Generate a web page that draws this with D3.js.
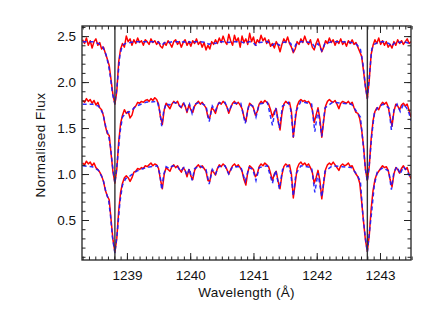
<!DOCTYPE html>
<html><head><meta charset="utf-8">
<script src="https://cdn.jsdelivr.net/npm/d3@7"></script>
<style>html,body{margin:0;padding:0;background:#fff;}svg{display:block;}</style>
</head><body>
<script>
// Observed spectra wavelength grid (Å)
const obsWave = [
1238.30,1238.33,1238.36,1238.39,1238.42,1238.45,1238.48,1238.51,1238.54,1238.57,
1238.60,1238.63,1238.66,1238.69,1238.72,1238.75,1238.78,1238.81,1238.84,1238.87,
1238.90,1238.93,1238.96,1238.99,1239.02,1239.05,1239.08,1239.11,1239.14,1239.17,
1239.20,1239.23,1239.26,1239.29,1239.32,1239.35,1239.38,1239.41,1239.44,1239.47,
1239.50,1239.53,1239.56,1239.59,1239.62,1239.65,1239.68,1239.71,1239.74,1239.77,
1239.80,1239.83,1239.86,1239.89,1239.92,1239.95,1239.98,1240.01,1240.04,1240.07,
1240.10,1240.13,1240.16,1240.19,1240.22,1240.25,1240.28,1240.31,1240.34,1240.37,
1240.40,1240.43,1240.46,1240.49,1240.52,1240.55,1240.58,1240.61,1240.64,1240.67,
1240.70,1240.73,1240.76,1240.79,1240.82,1240.85,1240.88,1240.91,1240.94,1240.97,
1241.00,1241.03,1241.06,1241.09,1241.12,1241.15,1241.18,1241.21,1241.24,1241.27,
1241.30,1241.33,1241.36,1241.39,1241.42,1241.45,1241.48,1241.51,1241.54,1241.57,
1241.60,1241.63,1241.66,1241.69,1241.72,1241.75,1241.78,1241.81,1241.84,1241.87,
1241.90,1241.93,1241.96,1241.99,1242.02,1242.05,1242.08,1242.11,1242.14,1242.17,
1242.20,1242.23,1242.26,1242.29,1242.32,1242.35,1242.38,1242.41,1242.44,1242.47,
1242.50,1242.53,1242.56,1242.59,1242.62,1242.65,1242.68,1242.71,1242.74,1242.77,
1242.80,1242.83,1242.86,1242.89,1242.92,1242.95,1242.98,1243.01,1243.04,1243.07,
1243.10,1243.13,1243.16,1243.19,1243.22,1243.25,1243.28,1243.31,1243.34,1243.37,
1243.40,1243.43,1243.46,1243.49];

const obsTop = [
2.46,2.42,2.48,2.40,2.45,2.37,2.44,2.47,2.40,2.43,
2.36,2.38,2.31,2.25,2.18,2.02,1.86,1.76,1.90,2.22,
2.36,2.42,2.38,2.50,2.44,2.47,2.40,2.46,2.42,2.48,
2.43,2.45,2.40,2.46,2.44,2.41,2.47,2.43,2.45,2.41,
2.44,2.39,2.37,2.43,2.40,2.45,2.42,2.38,2.44,2.46,
2.41,2.44,2.38,2.43,2.46,2.40,2.44,2.39,2.45,2.42,
2.47,2.41,2.44,2.38,2.43,2.35,2.40,2.36,2.44,2.41,
2.46,2.42,2.48,2.43,2.50,2.44,2.41,2.52,2.45,2.40,
2.51,2.44,2.48,2.38,2.50,2.43,2.47,2.41,2.53,2.44,
2.49,2.40,2.46,2.43,2.51,2.45,2.48,2.42,2.46,2.39,
2.42,2.37,2.44,2.40,2.33,2.41,2.47,2.43,2.49,2.42,
2.38,2.32,2.36,2.44,2.41,2.47,2.43,2.50,2.44,2.41,
2.46,2.38,2.35,2.42,2.47,2.40,2.33,2.38,2.45,2.42,
2.48,2.43,2.46,2.40,2.45,2.42,2.47,2.41,2.44,2.39,
2.45,2.42,2.46,2.41,2.43,2.38,2.33,2.28,2.12,1.95,
1.82,2.02,2.30,2.40,2.46,2.42,2.48,2.41,2.45,2.40,
2.44,2.38,2.41,2.37,2.44,2.40,2.46,2.42,2.45,2.41,
2.44,2.47,2.42,2.44];

const obsMid = [
1.80,1.78,1.82,1.79,1.81,1.77,1.80,1.75,1.78,1.72,
1.70,1.63,1.52,1.44,1.42,1.22,1.02,0.90,1.05,1.35,
1.55,1.64,1.70,1.66,1.68,1.61,1.64,1.72,1.74,1.78,
1.77,1.79,1.78,1.80,1.81,1.79,1.82,1.80,1.83,1.81,
1.76,1.62,1.54,1.70,1.77,1.74,1.71,1.76,1.79,1.77,
1.79,1.74,1.72,1.77,1.74,1.67,1.75,1.70,1.67,1.74,
1.77,1.79,1.76,1.78,1.75,1.72,1.62,1.61,1.72,1.70,
1.66,1.74,1.78,1.76,1.79,1.77,1.73,1.66,1.72,1.77,
1.79,1.76,1.78,1.75,1.71,1.62,1.57,1.70,1.77,1.75,
1.72,1.64,1.68,1.76,1.79,1.77,1.80,1.78,1.76,1.70,
1.62,1.68,1.71,1.58,1.48,1.66,1.76,1.79,1.77,1.78,
1.68,1.40,1.58,1.74,1.79,1.81,1.79,1.80,1.78,1.79,
1.76,1.70,1.56,1.64,1.72,1.60,1.40,1.58,1.74,1.79,
1.81,1.79,1.78,1.80,1.76,1.71,1.77,1.79,1.78,1.77,
1.79,1.76,1.78,1.72,1.67,1.66,1.60,1.48,1.30,1.05,
0.93,1.08,1.38,1.58,1.68,1.72,1.70,1.75,1.78,1.76,
1.78,1.73,1.62,1.52,1.68,1.76,1.74,1.70,1.75,1.77,
1.74,1.76,1.69,1.62];

const obsBot = [
1.12,1.10,1.14,1.11,1.13,1.09,1.12,1.07,1.05,1.02,
0.98,0.92,0.82,0.76,0.72,0.50,0.28,0.15,0.30,0.60,
0.80,0.90,0.96,0.98,0.96,0.92,0.96,1.02,1.03,1.06,
1.05,1.07,1.06,1.09,1.08,1.10,1.12,1.09,1.11,1.10,
1.06,0.94,0.84,1.00,1.07,1.05,1.03,1.08,1.10,1.07,
1.09,1.05,1.02,1.07,1.04,0.97,1.05,0.98,0.94,1.04,
1.08,1.10,1.07,1.09,1.06,1.03,0.93,0.92,1.04,1.02,
0.99,1.06,1.10,1.08,1.11,1.09,1.05,1.00,1.05,1.09,
1.11,1.08,1.10,1.07,1.03,0.94,0.88,1.02,1.09,1.07,
1.05,0.97,1.00,1.08,1.11,1.09,1.12,1.10,1.08,1.01,
0.93,1.00,1.03,0.92,0.84,0.99,1.08,1.11,1.09,1.10,
1.00,0.74,0.90,1.06,1.11,1.13,1.10,1.12,1.09,1.11,
1.07,1.02,0.90,0.96,1.04,0.93,0.73,0.90,1.05,1.10,
1.12,1.10,1.13,1.10,1.07,1.04,1.09,1.11,1.09,1.10,
1.12,1.08,1.09,1.04,1.00,0.97,0.90,0.70,0.48,0.28,
0.16,0.33,0.62,0.82,0.94,1.00,1.03,1.06,1.09,1.07,
1.08,1.04,0.94,0.86,1.00,1.07,1.05,1.01,1.06,1.09,
1.05,1.07,1.00,0.95];

// Model spectra (knot wavelengths shared by the three models)
const modelWave = [
1238.30,1238.45,1238.55,1238.62,1238.67,1238.71,1238.74,1238.77,1238.81,1238.85,1238.89,1238.93,1238.98,1239.05,1239.15,1239.30,
1239.48,1239.52,1239.55,1239.58,1239.62,1239.67,1239.72,1239.80,1239.85,1239.90,1239.95,1239.99,1240.03,1240.07,1240.15,
1240.25,1240.30,1240.35,1240.40,1240.45,1240.55,1240.61,1240.67,1240.80,1240.87,1240.93,1240.99,1241.04,1241.09,1241.22,
1241.30,1241.35,1241.41,1241.46,1241.55,1241.59,1241.63,1241.67,1241.75,1241.92,1241.97,1242.02,1242.08,1242.13,1242.25,
1242.40,1242.55,1242.63,1242.69,1242.73,1242.77,1242.80,1242.83,1242.87,1242.91,1242.96,1243.05,1243.14,1243.18,1243.22,
1243.27,1243.32,1243.37,1243.42,1243.46,1243.49];
const modelTop = [
2.44,2.44,2.42,2.38,2.30,2.18,2.05,1.88,1.76,2.00,2.30,2.40,2.42,2.43,2.44,2.44,
2.44,2.42,2.40,2.42,2.44,2.43,2.44,2.44,2.43,2.44,2.42,2.44,2.42,2.44,2.44,
2.43,2.41,2.43,2.42,2.44,2.44,2.43,2.44,2.44,2.42,2.44,2.43,2.40,2.43,2.44,
2.40,2.43,2.40,2.43,2.44,2.42,2.34,2.41,2.44,2.43,2.38,2.42,2.34,2.42,2.44,
2.44,2.43,2.41,2.36,2.20,1.95,1.82,2.05,2.36,2.41,2.43,2.44,2.42,2.39,2.42,
2.44,2.43,2.44,2.43,2.42,2.43];
const modelMid = [
1.76,1.76,1.74,1.66,1.50,1.42,1.30,1.10,0.90,1.15,1.45,1.62,1.66,1.68,1.74,1.78,
1.79,1.68,1.52,1.68,1.77,1.75,1.78,1.77,1.73,1.77,1.69,1.76,1.66,1.76,1.78,
1.74,1.57,1.74,1.69,1.77,1.78,1.68,1.77,1.77,1.55,1.76,1.74,1.62,1.76,1.78,
1.53,1.72,1.50,1.74,1.78,1.70,1.40,1.68,1.79,1.76,1.46,1.70,1.41,1.72,1.78,
1.77,1.76,1.68,1.62,1.35,1.05,0.92,1.10,1.42,1.66,1.72,1.76,1.72,1.48,1.70,
1.76,1.68,1.76,1.72,1.66,1.58];
const modelBot = [
1.09,1.08,1.04,0.95,0.80,0.72,0.55,0.32,0.14,0.38,0.70,0.88,0.95,0.98,1.03,1.07,
1.09,1.00,0.83,0.99,1.08,1.06,1.09,1.08,1.03,1.07,0.99,1.06,0.93,1.06,1.09,
1.05,0.89,1.05,1.00,1.08,1.09,1.00,1.08,1.08,0.92,1.07,1.05,0.93,1.07,1.09,
0.90,1.04,0.84,1.05,1.09,1.01,0.76,1.00,1.09,1.07,0.80,1.01,0.75,1.03,1.09,
1.08,1.07,1.00,0.92,0.55,0.30,0.15,0.35,0.60,0.88,1.03,1.07,1.03,0.83,1.02,
1.08,1.00,1.08,1.04,0.99,0.95];

// N V doublet rest wavelengths
const markerLines = [1238.81, 1242.80];

const xMajor = [1239, 1240, 1241, 1242, 1243];
const yMajor = [0.5, 1.0, 1.5, 2.0, 2.5];
const xLabel = "Wavelength  (Å)";
const yLabel = "Normalised Flux";

const W = 436, H = 312;
const m = {l: 82, r: 411, t: 26, b: 260};
const x = d3.scaleLinear().domain([1238.29, 1243.49]).range([m.l, m.r]);
const y = d3.scaleLinear().domain([0.065, 2.61]).range([m.b, m.t]);

const svg = d3.select("body").append("svg").attr("width", W).attr("height", H);
svg.append("defs").append("clipPath").attr("id", "clip")
  .append("rect").attr("x", m.l).attr("y", m.t).attr("width", m.r - m.l).attr("height", m.b - m.t);

const font = "'Liberation Sans', Arial, sans-serif";
const axisCol = "#222";

const plot = svg.append("g").attr("clip-path", "url(#clip)");
const line = d3.line().x(d => x(d[0])).y(d => y(d[1]));

[obsTop, obsMid, obsBot].forEach(s => {
  plot.append("path").datum(d3.zip(obsWave, s)).attr("d", line)
    .attr("fill", "none").attr("stroke", "#ff0000").attr("stroke-width", 1.5)
    .attr("stroke-linejoin", "round");
});
[modelTop, modelMid, modelBot].forEach(s => {
  plot.append("path").datum(d3.zip(modelWave, s)).attr("d", line)
    .attr("fill", "none").attr("stroke", "#1a1aff").attr("stroke-width", 1.5)
    .attr("stroke-dasharray", "4,3").attr("opacity", 0.9);
});

plot.selectAll("line.nv").data(markerLines).enter().append("line")
  .attr("x1", d => x(d)).attr("x2", d => x(d)).attr("y1", m.t).attr("y2", m.b)
  .attr("stroke", "#333").attr("stroke-width", 1.4);

// Axes (ticks inside, IDL style)
const xMinor = d3.range(1238.3, 1243.5, 0.1);
const yMinor = d3.range(0.1, 2.61, 0.1);
function styleAxis(g) {
  g.select(".domain").remove();
  g.selectAll(".tick line").attr("stroke", axisCol).attr("stroke-width", 1);
  g.selectAll("text").attr("font-family", font).attr("font-size", 13.5).attr("fill", "#111");
}
svg.append("g").attr("transform", `translate(0,${m.b})`)
  .call(d3.axisBottom(x).tickValues(xMajor).tickFormat(d3.format("d")).tickSize(-7).tickSizeOuter(0).tickPadding(10))
  .call(styleAxis);
svg.append("g").attr("transform", `translate(0,${m.b})`)
  .call(d3.axisBottom(x).tickValues(xMinor).tickFormat("").tickSize(-3.5).tickSizeOuter(0))
  .call(styleAxis);
svg.append("g").attr("transform", `translate(0,${m.t})`)
  .call(d3.axisTop(x).tickValues(xMajor).tickFormat("").tickSize(-7).tickSizeOuter(0))
  .call(styleAxis);
svg.append("g").attr("transform", `translate(0,${m.t})`)
  .call(d3.axisTop(x).tickValues(xMinor).tickFormat("").tickSize(-3.5).tickSizeOuter(0))
  .call(styleAxis);
svg.append("g").attr("transform", `translate(${m.l},0)`)
  .call(d3.axisLeft(y).tickValues(yMajor).tickFormat(d3.format(".1f")).tickSize(-7).tickSizeOuter(0).tickPadding(6))
  .call(styleAxis);
svg.append("g").attr("transform", `translate(${m.l},0)`)
  .call(d3.axisLeft(y).tickValues(yMinor).tickFormat("").tickSize(-3.5).tickSizeOuter(0))
  .call(styleAxis);
svg.append("g").attr("transform", `translate(${m.r},0)`)
  .call(d3.axisRight(y).tickValues(yMajor).tickFormat("").tickSize(-7).tickSizeOuter(0))
  .call(styleAxis);
svg.append("g").attr("transform", `translate(${m.r},0)`)
  .call(d3.axisRight(y).tickValues(yMinor).tickFormat("").tickSize(-3.5).tickSizeOuter(0))
  .call(styleAxis);

svg.append("rect").attr("x", m.l).attr("y", m.t).attr("width", m.r - m.l).attr("height", m.b - m.t)
  .attr("fill", "none").attr("stroke", axisCol).attr("stroke-width", 1.3);

svg.append("text").attr("x", (m.l + m.r) / 2).attr("y", 297)
  .attr("text-anchor", "middle").attr("font-family", font).attr("font-size", 13.5)
  .attr("letter-spacing", 0.3).attr("fill", "#111").text(xLabel);
svg.append("text").attr("transform", `translate(45,${(m.t + m.b) / 2 + 2}) rotate(-90)`)
  .attr("text-anchor", "middle").attr("font-family", font).attr("font-size", 13.5)
  .attr("letter-spacing", 0.5).attr("fill", "#111").text(yLabel);
</script>
</body></html>
